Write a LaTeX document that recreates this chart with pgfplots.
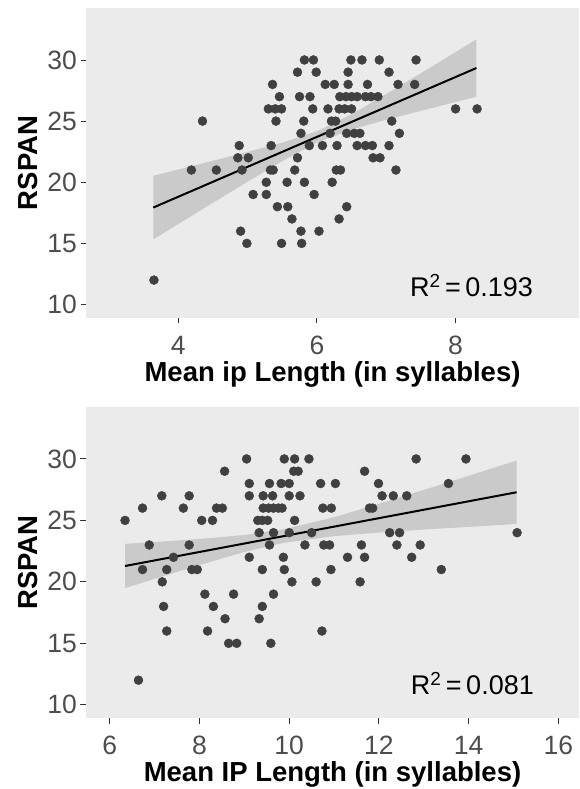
\documentclass[border=0pt]{standalone}
\usepackage{pgfplots}
\pgfplotsset{compat=1.18}
\usepackage{fontspec}
\setmainfont{Liberation Sans}

\definecolor{panel}{HTML}{EBEBEB}
\definecolor{dots}{HTML}{404040}
\definecolor{ticktext}{HTML}{4D4D4D}
\definecolor{bandgrey}{HTML}{999999}

\pgfplotsset{
  rspanpanel/.style={
    scale only axis,
    width=493pt,
    axis background/.style={fill=panel},
    axis line style={draw=none},
    tick align=outside,
    major tick length=5.5pt,
    xtick pos=bottom, ytick pos=left,
    tick style={draw=black!80, line width=0.9pt},
    /pgf/number format/assume math mode=true,
    ticklabel style={font=\fontsize{26.5}{31}\selectfont, text=ticktext},
    xticklabel style={yshift=-9pt},
    ymin=8.9, ymax=34.25,
    ytick={10,15,20,25,30},
    label style={font=\fontsize{27.5}{32}\selectfont\bfseries},
    ylabel={RSPAN},
  },
}

\begin{document}
\begin{tikzpicture}
\useasboundingbox (0,0) rectangle (579pt,789pt);

% top panel: mean ip length
\begin{axis}[rspanpanel,
  at={(86pt,471pt)}, anchor=south west,
  height=310pt,
  xmin=2.67, xmax=9.78,
  xtick={4,6,8},
  xlabel={Mean ip Length (in syllables)},
  xlabel style={at={(axis description cs:0.5,-0.2055)}, anchor=base},
  ylabel style={at={(axis description cs:-0.0974,0.5)}, anchor=base},
]
\addplot[only marks, mark=*, mark size=4.5pt, color=dots] table {
5.82 30
5.95 30
6.49 30
6.65 30
6.90 30
7.43 30
5.72 29
5.99 29
6.45 29
7.04 29
5.36 28
6.12 28
6.25 28
6.45 28
6.73 28
7.17 28
7.41 28
5.46 27
5.75 27
5.90 27
6.33 27
6.42 27
6.50 27
6.58 27
6.70 27
6.78 27
6.88 27
5.30 26
5.40 26
5.49 26
5.94 26
6.16 26
6.32 26
6.40 26
6.50 26
8.00 26
8.31 26
4.35 25
5.41 25
5.81 25
6.21 25
6.27 25
7.08 25
5.77 24
6.19 24
6.43 24
6.54 24
6.62 24
7.19 24
4.88 23
5.34 23
5.89 23
6.08 23
6.29 23
6.58 23
6.70 23
6.80 23
7.04 23
4.86 22
5.01 22
5.72 22
6.81 22
6.91 22
4.19 21
4.55 21
4.92 21
5.33 21
5.37 21
5.68 21
6.28 21
6.34 21
7.14 21
5.27 20
5.57 20
5.82 20
6.22 20
5.08 19
5.27 19
5.96 19
5.43 18
5.58 18
6.43 18
5.64 17
6.32 17
4.90 16
5.77 16
6.03 16
4.99 15
5.49 15
5.78 15
3.65 12
};
% confidence band (upper edge, then lower edge back)
\addplot[fill=bandgrey, fill opacity=0.4, draw=none] coordinates {
(3.64,20.53) (4.0,21.04) (4.5,21.76) (5.0,22.48) (5.5,23.24) (6.0,24.17)
(6.5,25.55) (7.0,27.21) (7.5,28.92) (8.0,30.64) (8.3,31.69)
(8.3,26.99) (8.0,26.56) (7.5,25.84) (7.0,25.11) (6.5,24.31) (6.0,23.25)
(5.5,21.72) (5.0,20.04) (4.5,18.32) (4.0,16.58) (3.64,15.33)
} -- cycle;
\addplot[black, line width=2pt] coordinates {(3.64,17.93) (8.30,29.34)};
\node[anchor=base west, inner sep=0pt, font=\fontsize{27}{32}\selectfont]
  at (axis cs:7.34,10.68) {R\textsuperscript{2}\,=\,0.193};
\end{axis}

% bottom panel: mean IP length
\begin{axis}[rspanpanel,
  at={(86pt,70.7pt)}, anchor=south west,
  height=311.6pt,
  xmin=5.47, xmax=16.46,
  xtick={6,8,10,12,14,16},
  xlabel={Mean IP Length (in syllables)},
  xlabel style={at={(axis description cs:0.5,-0.2035)}, anchor=base},
  ylabel style={at={(axis description cs:-0.0974,0.5)}, anchor=base},
]
\addplot[only marks, mark=*, mark size=4.5pt, color=dots] table {
9.05 30
9.89 30
10.12 30
10.44 30
12.83 30
13.94 30
8.56 29
10.10 29
10.20 29
11.68 29
9.11 28
9.56 28
9.82 28
10.00 28
10.70 28
11.03 28
11.99 28
13.55 28
7.16 27
7.77 27
9.11 27
9.42 27
9.63 27
10.00 27
10.24 27
12.07 27
12.32 27
12.62 27
6.73 26
7.64 26
8.38 26
8.51 26
9.42 26
9.54 26
9.65 26
9.76 26
9.84 26
10.75 26
10.94 26
11.79 26
11.86 26
6.34 25
8.05 25
8.29 25
9.30 25
9.40 25
9.52 25
10.12 25
9.33 24
9.65 24
10.00 24
10.50 24
12.24 24
12.46 24
15.08 24
6.88 23
7.77 23
9.56 23
10.35 23
10.77 23
10.90 23
11.61 23
12.40 23
12.92 23
7.42 22
9.11 22
9.87 22
11.30 22
11.68 22
12.73 22
6.73 21
7.27 21
7.83 21
7.95 21
9.40 21
9.89 21
10.93 21
13.39 21
7.17 20
10.06 20
10.60 20
11.58 20
8.12 19
8.76 19
9.65 19
7.20 18
8.31 18
9.40 18
8.57 17
9.33 17
7.27 16
8.18 16
10.73 16
8.65 15
8.83 15
9.59 15
6.64 12
};
\addplot[fill=bandgrey, fill opacity=0.4, draw=none] coordinates {
(6.34,23.09) (7,23.24) (8,23.49) (9,23.81) (9.87,24.27) (11,25.26)
(12,26.35) (13,27.48) (14,28.63) (15.07,29.87)
(15.07,24.71) (14,24.47) (13,24.26) (12,24.01) (11,23.72) (9.87,23.17)
(9,22.43) (8,21.37) (7,20.24) (6.34,19.49)
} -- cycle;
\addplot[black, line width=2pt] coordinates {(6.34,21.29) (15.07,27.29)};
\node[anchor=base west, inner sep=0pt, font=\fontsize{27}{32}\selectfont]
  at (axis cs:12.71,10.80) {R\textsuperscript{2}\,=\,0.081};
\end{axis}
\end{tikzpicture}
\end{document}
